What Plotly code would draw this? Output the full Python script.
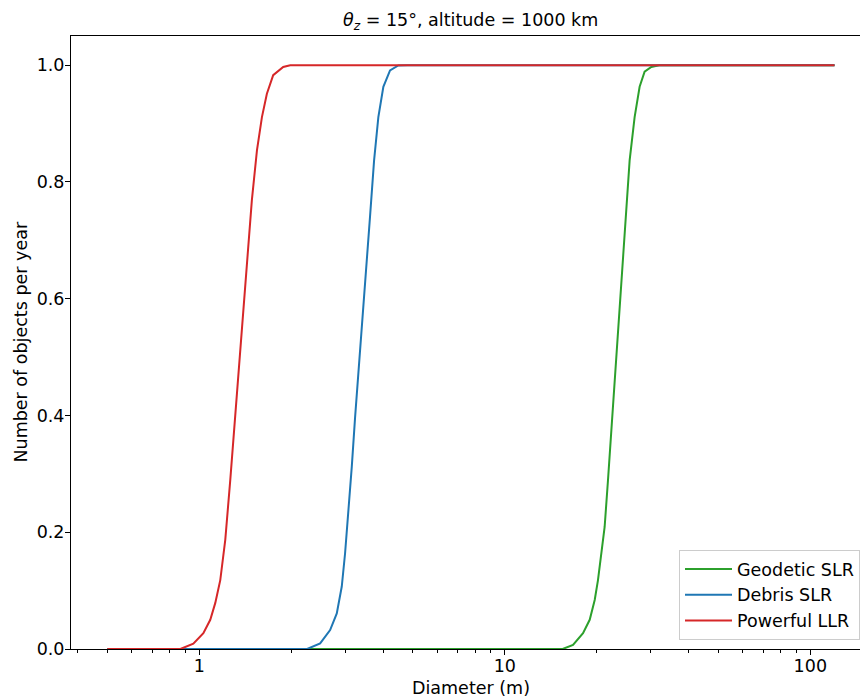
import plotly.graph_objects as go

# ---- data ----
geo_x = [0.5, 15.47, 16.72, 18.03, 18.96, 19.69, 20.18, 20.70, 21.22, 21.76, 22.32, 22.88,
         23.46, 24.07, 24.80, 25.62, 26.60, 27.62, 28.68, 30.16, 32.0, 120.0]
geo_y = [0.0, 0.0, 0.007, 0.027, 0.050, 0.084, 0.118, 0.164, 0.209, 0.289, 0.375, 0.461,
         0.545, 0.632, 0.740, 0.837, 0.911, 0.963, 0.989, 0.997, 1.0, 1.0]

deb_x = [0.5, 2.254, 2.486, 2.680, 2.818, 2.926, 3.000, 3.075, 3.155, 3.234, 3.316, 3.401,
         3.513, 3.622, 3.733, 3.855, 4.003, 4.210, 4.481, 4.8, 120.0]
deb_y = [0.0, 0.0, 0.0097, 0.0325, 0.061, 0.107, 0.164, 0.232, 0.312, 0.396, 0.470, 0.543,
         0.635, 0.742, 0.837, 0.911, 0.963, 0.991, 0.9995, 1.0, 1.0]

llr_x = [0.5, 0.867, 0.956, 1.031, 1.086, 1.128, 1.171, 1.216, 1.263, 1.311, 1.361, 1.432,
         1.486, 1.544, 1.603, 1.664, 1.745, 1.882, 1.984, 2.2, 120.0]
llr_y = [0.0, 0.0, 0.009, 0.027, 0.050, 0.079, 0.118, 0.187, 0.290, 0.400, 0.515, 0.655,
         0.769, 0.854, 0.911, 0.951, 0.983, 0.997, 1.0, 1.0, 1.0]

names = ["Geodetic SLR", "Debris SLR", "Powerful LLR"]
colors = ["#2ca02c", "#1f77b4", "#d62728"]

y_ticks = [0.0, 0.2, 0.4, 0.6, 0.8, 1.0]
x_ticks = [1, 10, 100]
x_ticklabels = ["1", "10", "100"]
x_minor = [0.4, 0.5, 0.6, 0.7, 0.8, 0.9, 2, 3, 4, 5, 6, 7, 8, 9,
           20, 30, 40, 50, 60, 70, 80, 90]

FONT = "DejaVu Sans"
FS = 17.5

# plot area: left spine at x=71 px, extends past the right edge of the picture
L = 71
W = 860 - L
x_lo = -0.42004
x_hi = x_lo + W / 305.5

fig = go.Figure()
for xs, ys, nm, c in zip([geo_x, deb_x, llr_x], [geo_y, deb_y, llr_y], names, colors):
    fig.add_trace(go.Scatter(x=xs, y=ys, mode="lines", name=nm,
                             line=dict(color=c, width=2)))

fig.update_layout(
    width=860, height=699,
    margin=dict(l=L, r=0, t=36, b=50),
    paper_bgcolor="white", plot_bgcolor="white",
    font=dict(family=FONT, size=FS, color="black"),
    showlegend=True,
    legend=dict(x=(679 - L) / W, xanchor="left", y=(649 - 640) / 613, yanchor="bottom",
                bgcolor="rgba(255,255,255,0.8)", bordercolor="#cccccc", borderwidth=1,
                font=dict(family=FONT, size=FS, color="black"),
                itemwidth=47),
)

fig.update_xaxes(
    type="log", range=[x_lo, x_hi],
    tickvals=x_ticks, ticktext=x_ticklabels,
    ticks="outside", ticklen=5, tickwidth=1, tickcolor="black",
    ticklabelstandoff=-4,
    minor=dict(tickvals=x_minor, ticks="outside", ticklen=3, tickwidth=1, tickcolor="black"),
    showline=True, linecolor="black", linewidth=1, mirror=True,
    showgrid=False, zeroline=False,
    tickfont=dict(family=FONT, size=FS, color="black"),
)
fig.update_yaxes(
    range=[0, 1.05], tickvals=y_ticks, tickformat=".1f",
    ticks="outside", ticklen=5, tickwidth=1, tickcolor="black",
    ticklabelstandoff=-3,
    showline=True, linecolor="black", linewidth=1,
    showgrid=False, zeroline=False,
    tickfont=dict(family=FONT, size=FS, color="black"),
)

fig.add_annotation(text="<i>θ</i><sub><i>z</i></sub> = 15°, altitude = 1000 km",
                   xref="paper", yref="paper", x=(470 - L) / W, y=(649 - 22) / 613,
                   xanchor="center", yanchor="middle", showarrow=False,
                   font=dict(family=FONT, size=FS, color="black"))
fig.add_annotation(text="Diameter (m)", xref="paper", yref="paper",
                   x=(471 - L) / W, y=(649 - 688) / 613,
                   xanchor="center", yanchor="middle", showarrow=False,
                   font=dict(family=FONT, size=FS, color="black"))
fig.add_annotation(text="Number of objects per year", xref="paper", yref="paper",
                   x=(20 - L) / W, y=0.5, textangle=-90,
                   xanchor="center", yanchor="middle", showarrow=False,
                   font=dict(family=FONT, size=FS, color="black"))

fig.write_html("out.html")
